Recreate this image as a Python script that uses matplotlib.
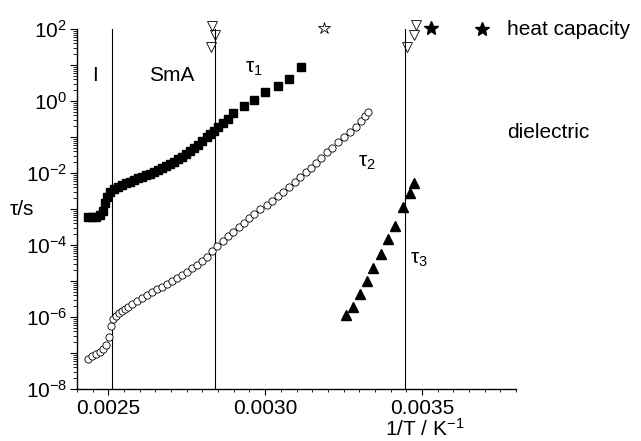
import matplotlib
matplotlib.use("Agg")
import matplotlib.pyplot as plt
from matplotlib.ticker import FixedLocator, FuncFormatter, LogLocator, MultipleLocator
import numpy as np

plt.rcParams['font.family'] = ['Liberation Sans', 'DejaVu Sans']
plt.rcParams['mathtext.fontset'] = 'custom'
plt.rcParams['mathtext.rm'] = 'Liberation Sans'
plt.rcParams['mathtext.it'] = 'Liberation Sans'
plt.rcParams['mathtext.bf'] = 'Liberation Sans:bold'

# tau_1 (filled squares)
inv_T1 = [0.002435, 0.002448, 0.002461, 0.002473, 0.002483, 0.002489, 0.002496,
          0.002505, 0.002518, 0.002531, 0.002544, 0.002557, 0.002569, 0.002582,
          0.002595, 0.002608, 0.002621, 0.002633, 0.002646, 0.002659, 0.002672,
          0.002685, 0.002697, 0.002710, 0.002723, 0.002736, 0.002749, 0.002761,
          0.002774, 0.002787, 0.002800, 0.002813, 0.002825, 0.002838, 0.002851,
          0.002864, 0.002880, 0.002896, 0.002931, 0.002966, 0.003001, 0.003040,
          0.003075, 0.003113]
tau1 = [6.0e-4, 6.0e-4, 6.0e-4, 6.8e-4, 8.8e-4, 1.47e-3, 2.15e-3,
        2.96e-3, 3.6e-3, 4.08e-3, 4.65e-3, 5.27e-3, 5.62e-3, 6.4e-3,
        7.26e-3, 7.74e-3, 8.8e-3, 9.4e-3, 1.07e-2, 1.21e-2, 1.38e-2,
        1.56e-2, 1.78e-2, 2.02e-2, 2.45e-2, 2.78e-2, 3.37e-2, 4.08e-2,
        4.94e-2, 6.0e-2, 7.74e-2, 0.1, 0.121, 0.147, 0.19,
        0.245, 0.316, 0.465, 0.726, 1.07, 1.78, 2.61,
        4.08, 8.8]

# tau_2 (open circles)
inv_T2 = [0.002435, 0.002448, 0.002461, 0.002473, 0.002483, 0.002493, 0.002502,
          0.002509, 0.002515, 0.002525, 0.002534, 0.002544, 0.002553, 0.002563,
          0.002576, 0.002592, 0.002608, 0.002624, 0.002640, 0.002656, 0.002672,
          0.002688, 0.002704, 0.002720, 0.002736, 0.002752, 0.002768, 0.002784,
          0.002800, 0.002816, 0.002832, 0.002848, 0.002867, 0.002883, 0.002899,
          0.002915, 0.002931, 0.002950, 0.002966, 0.002985, 0.003005, 0.003021,
          0.003040, 0.003056, 0.003075, 0.003094, 0.003110, 0.003129, 0.003145,
          0.003161, 0.003177, 0.003197, 0.003213, 0.003232, 0.003251, 0.003270,
          0.003289, 0.003305, 0.003318, 0.003328]
tau2 = [6.8e-8, 8.26e-8, 9.38e-8, 1.07e-7, 1.29e-7, 1.67e-7, 2.78e-7,
        5.62e-7, 8.8e-7, 1.07e-6, 1.29e-6, 1.47e-6, 1.67e-6, 1.90e-6,
        2.30e-6, 2.78e-6, 3.37e-6, 4.08e-6, 4.94e-6, 6.0e-6, 6.8e-6,
        8.26e-6, 1.0e-5, 1.21e-5, 1.47e-5, 1.78e-5, 2.30e-5, 2.78e-5,
        3.6e-5, 4.65e-5, 6.8e-5, 9.38e-5, 1.29e-4, 1.78e-4, 2.30e-4,
        3.16e-4, 4.08e-4, 5.62e-4, 7.26e-4, 1.0e-3, 1.29e-3, 1.67e-3,
        2.30e-3, 2.96e-3, 4.08e-3, 5.62e-3, 7.74e-3, 1.07e-2, 1.38e-2,
        1.90e-2, 2.61e-2, 3.83e-2, 4.94e-2, 7.26e-2, 0.1, 0.138,
        0.19, 0.278, 0.383, 0.494]

# tau_3 (filled triangles)
inv_T3 = [0.003257, 0.003279, 0.003302, 0.003324, 0.003345, 0.003368,
          0.003391, 0.003414, 0.003439, 0.003462, 0.003475]
tau3 = [1.14e-6, 1.86e-6, 4.36e-6, 1.0e-5, 2.34e-5, 5.52e-5,
        1.44e-4, 3.44e-4, 1.11e-3, 2.73e-3, 5.38e-3]

# phase transitions
transitions = [0.002512, 0.002841, 0.003446]
trans_dielectric_x = [0.002829, 0.002839, 0.002828, 0.003481, 0.003474, 0.003452]
trans_dielectric_y = [121, 68, 31, 129, 68, 31]
hc_open_x, hc_open_y = [0.003187], [107]
hc_filled_x, hc_filled_y = [0.003529], [105]

fig = plt.figure(figsize=(6.41, 4.41), dpi=100)
ax = fig.add_axes([0.1201, 0.1179, 0.685, 0.816])

for xt in transitions:
    ax.plot([xt, xt], [1e-8, 1e2], color='black', lw=0.8, zorder=1)

ax.plot(inv_T1, tau1, ls='none', marker='s', ms=5.4, color='black', mec='black', zorder=3)
ax.plot(inv_T2, tau2, ls='none', marker='o', ms=5.2, mfc='white', mec='black', mew=0.6, zorder=3)
ax.plot(inv_T3, tau3, ls='none', marker='^', ms=6.5, color='black', zorder=3)

ax.plot(trans_dielectric_x, trans_dielectric_y, ls='none', marker='v', ms=6.5,
        mfc='none', mec='black', mew=0.6, clip_on=False, zorder=4)
ax.plot(hc_open_x, hc_open_y, ls='none', marker='*', ms=9, mfc='white', mec='black',
        mew=0.6, clip_on=False, zorder=4)
ax.plot(hc_filled_x, hc_filled_y, ls='none', marker='*', ms=10, color='black',
        clip_on=False, zorder=4)

ax.set_yscale('log')
ax.set_xlim(0.0024, 0.0038)
ax.set_ylim(1e-8, 1e2)

ax.yaxis.set_major_locator(FixedLocator([10.0 ** e for e in range(-8, 3)]))
ax.yaxis.set_minor_locator(LogLocator(base=10, subs=np.arange(2, 10), numticks=20))


def decade_label(v, pos):
    e = int(round(np.log10(v)))
    return r'$\mathregular{10^{%d}}$' % e if e % 2 == 0 else ''


ax.yaxis.set_major_formatter(FuncFormatter(decade_label))
ax.yaxis.set_minor_formatter(FuncFormatter(lambda v, p: ''))
ax.xaxis.set_major_locator(FixedLocator([0.0025, 0.0030, 0.0035]))
ax.xaxis.set_minor_locator(MultipleLocator(0.00005))
ax.xaxis.set_major_formatter(FuncFormatter(lambda v, p: f'{v:.4f}'))

for side in ['top', 'right']:
    ax.spines[side].set_visible(False)
for side in ['left', 'bottom']:
    ax.spines[side].set_linewidth(1.0)

ax.tick_params(axis='y', which='major', direction='out', length=5, width=0.8,
               labelsize=15, pad=2)
ax.tick_params(axis='y', which='minor', direction='out', length=3, width=0.6)
ax.tick_params(axis='x', which='major', direction='out', length=4.5, width=0.8,
               labelsize=15, pad=2.5)
ax.tick_params(axis='x', which='minor', direction='out', length=2.5, width=0.6)

# phase and relaxation labels
ax.text(0.002456, 10 ** 0.7, 'I', fontsize=15, ha='center', va='center')
ax.text(0.002701, 10 ** 0.7, 'SmA', fontsize=15, ha='center', va='center')
ax.text(0.002935, 10 ** 0.9, r'$\tau_1$', fontsize=15, ha='left', va='center')
ax.text(0.003295, 10 ** -1.7, r'$\tau_2$', fontsize=15, ha='left', va='center')
ax.text(0.003461, 10 ** -4.4, r'$\tau_3$', fontsize=15, ha='left', va='center')

# legend-like annotations at the right
ax.plot([0.922], [1.0], transform=ax.transAxes, marker='*', ms=10, color='black',
        ls='none', clip_on=False)
ax.text(0.98, 1.0, 'heat capacity', transform=ax.transAxes, fontsize=15,
        ha='left', va='center')
ax.text(0.98, 0.714, 'dielectric', transform=ax.transAxes, fontsize=15,
        ha='left', va='center')

fig.text(0.034, 0.526, 'τ/s', fontsize=15, ha='center', va='center')
fig.text(0.663, 0.003, r'1/T / K$^{-1}$', fontsize=15, ha='center', va='bottom')

fig.savefig('out.png', dpi=100, facecolor='white')
